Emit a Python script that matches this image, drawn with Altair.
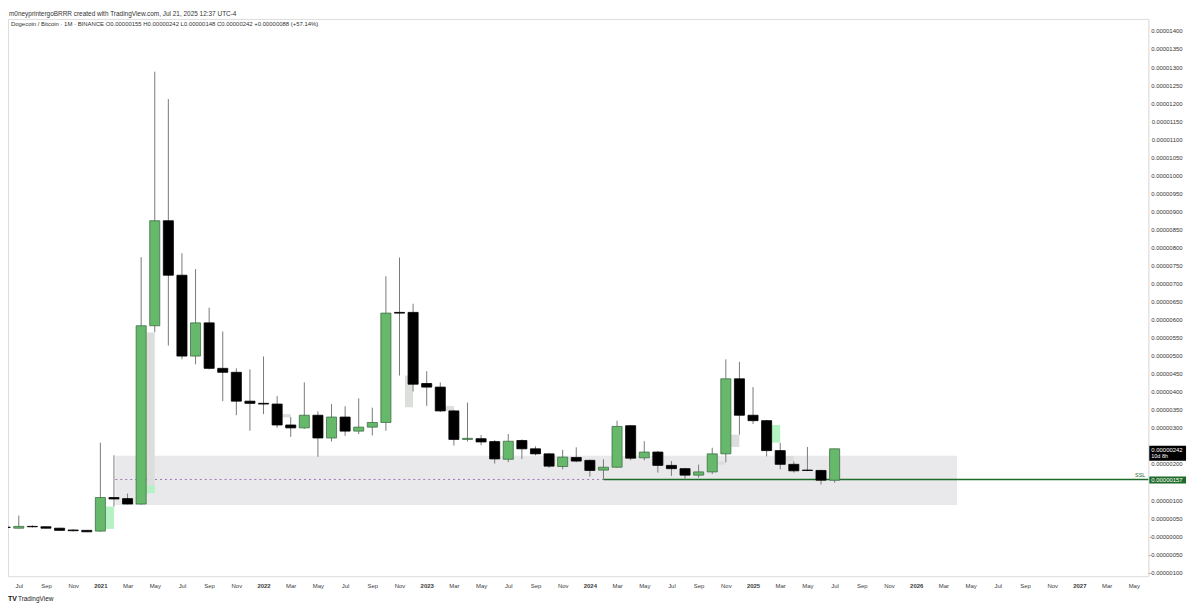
import altair as alt
import pandas as pd

# ---------------- data (prices in units of 1e-8 BTC, month index 0 = Jan 2020) ----------------
first_month = 5  # Jun 2020
opens = [25, 22, 27, 26, 22, 17, 16,
         14, 107, 104, 89, 583, 874, 723, 499, 591, 465, 454, 374,
         368, 366, 308, 300, 335, 272, 330, 291, 302, 315, 620, 620,
         423, 413, 347, 268, 270, 262, 213, 265, 242, 228, 193, 218,
         210, 183, 191, 306, 217, 233, 196, 187, 169, 178, 228, 436,
         335, 320, 237, 199, 183, 182, 155]
highs = [26, 57, 30, 27, 23, 19, 17,
         259, 224, 118, 773, 1287, 1211, 784, 740, 633, 567, 465, 462,
         498, 388, 330, 426, 346, 366, 360, 382, 356, 720, 772, 644,
         457, 426, 350, 370, 280, 266, 283, 268, 249, 230, 239, 246,
         212, 213, 320, 308, 263, 236, 208, 189, 198, 245, 490, 483,
         413, 322, 258, 207, 247, 184, 242]
lows = [23, 21, 24, 21, 15, 13, 11,
        12, 82, 88, 87, 565, 528, 490, 476, 462, 374, 335, 292,
        338, 300, 275, 297, 220, 262, 278, 283, 279, 292, 445, 401,
        361, 344, 251, 262, 252, 201, 205, 214, 224, 189, 185, 205,
        165, 157, 189, 210, 210, 176, 167, 157, 162, 172, 205, 281,
        311, 221, 185, 176, 180, 143, 148]
closes = [24, 27, 26, 22, 16, 15, 12,
          107, 103, 89, 583, 874, 723, 499, 591, 465, 454, 374, 368,
          366, 308, 300, 335, 272, 330, 291, 302, 315, 618, 618, 421,
          413, 347, 268, 271, 261, 214, 263, 242, 228, 194, 219, 208,
          182, 191, 304, 216, 233, 196, 187, 169, 178, 228, 436, 335,
          320, 237, 199, 181, 182, 155, 242]

# imbalance boxes drawn just after a candle
box_month = [12, 15, 15, 25, 34, 37, 57, 58, 61, 62]
box_low = [20, 141, 119, 329, 357, 347, 198, 247, 259, 207]
box_high = [82, 564, 141, 338, 445, 361, 207, 281, 308, 222]
box_kind = ["green", "gray", "green", "gray", "gray", "gray", "gray", "gray", "green", "gray"]

# shaded range, old mid level, SSL level
zone_start, zone_end = 13.1, 75.0
zone_low, zone_high = 86, 223
mid_level = 157
ssl_start = 49
ssl_level = 157
last_price = 242

# axis ticks
x_tick_values = list(range(6, 89, 2))
x_tick_labels = ["Jul", "Sep", "Nov",
                 "2021", "Mar", "May", "Jul", "Sep", "Nov",
                 "2022", "Mar", "May", "Jul", "Sep", "Nov",
                 "2023", "Mar", "May", "Jul", "Sep", "Nov",
                 "2024", "Mar", "May", "Jul", "Sep", "Nov",
                 "2025", "Mar", "May", "Jul", "Sep", "Nov",
                 "2026", "Mar", "May", "Jul", "Sep", "Nov",
                 "2027", "Mar", "May"]
# 150 and 250 sit behind the price tags on the scale
y_tick_values = [v for v in range(-100, 1401, 50) if v not in (150, 250)]

header1 = "m0neyprintergoBRRR created with TradingView.com, Jul 21, 2025 12:37 UTC-4"
header2 = ("Dogecoin / Bitcoin \u00b7 1M \u00b7 BINANCE  O0.00000155  H0.00000242  "
           "L0.00000148  C0.00000242  +0.00000088 (+57.14%)")

# ---------------- layout ----------------
W, H = 1148, 561
X_DOMAIN = [5.207, 89.07]
Y_DOMAIN = [-111, 1433.2]
FONT = "Liberation Sans"
GREEN = "#66b96b"
GREEN_EDGE = "#3f6f45"
BLACK = "#000000"

n = len(opens)
candles = pd.DataFrame({
    "m": [first_month + i for i in range(n)],
    "o": opens, "h": highs, "l": lows, "c": closes,
})

boxes = pd.DataFrame({"m": box_month, "lo": box_low, "hi": box_high, "kind": box_kind})

xs = alt.Scale(domain=X_DOMAIN, nice=False, zero=False)
ys = alt.Scale(domain=Y_DOMAIN, nice=False, zero=False)

label_array = "[" + ",".join("'%s'" % s for s in x_tick_labels) + "]"
xax = alt.Axis(
    values=x_tick_values, grid=False, ticks=False, domain=False,
    labelExpr=label_array + "[round((datum.value - 6) / 2)]",
    labelFont=FONT, labelFontSize=6, labelPadding=6, labelColor="#3a3a3a",
    labelFontWeight={"condition": {"test": "datum.value % 12 === 0", "value": "bold"}, "value": "normal"},
    labelOverlap=False, labelFlush=False,
)
yax = alt.Axis(
    orient="right", values=y_tick_values, grid=False, ticks=False,
    domain=True, domainColor="#e4e4e4", domainWidth=1,
    labelExpr="datum.value == 0 ? '-0.00000000' : format(datum.value / 1e8, '.8f')",
    labelFont=FONT, labelFontSize=6, labelAlign="right", labelPadding=34,
    labelColor="#333333", labelOverlap=False, labelFlush=False,
)


def X(f):
    return alt.X(f, type="quantitative", scale=xs, axis=xax, title=None)


def Y(f):
    return alt.Y(f, type="quantitative", scale=ys, axis=yax, title=None)


# zone
zone_df = pd.DataFrame({"x0": [zone_start], "x1": [zone_end], "lo": [zone_low], "hi": [zone_high]})
zone = alt.Chart(zone_df).mark_rect(color="#e8e8ea", opacity=0.95).encode(
    x=X("x0"), x2="x1", y=Y("lo"), y2="hi")

mid_df = pd.DataFrame({"x0": [zone_start], "x1": [ssl_start], "v": [mid_level]})
mid = alt.Chart(mid_df).mark_rule(color="#8e5aa8", strokeDash=[2, 3], strokeWidth=0.8).encode(
    x=X("x0"), x2="x1", y=Y("v"))

ssl_df = pd.DataFrame({"x0": [ssl_start], "x1": [X_DOMAIN[1]], "v": [ssl_level]})
ssl = alt.Chart(ssl_df).mark_rule(color="#1f6b2a", strokeWidth=1.5).encode(
    x=X("x0"), x2="x1", y=Y("v"))

ovl = alt.Chart(boxes).transform_calculate(
    x0="datum.m + 0.4", x1="datum.m + 1.0"
).mark_rect().encode(
    x=X("x0"), x2="x1", y=Y("lo"), y2="hi",
    color=alt.condition("datum.kind == 'green'", alt.value("#b4f2c4"), alt.value("#dcdedc")),
)

wicks = alt.Chart(candles).mark_rule(color="#7a7a7a", strokeWidth=1).encode(
    x=X("m"), y=Y("l"), y2="h")

bodies = alt.Chart(candles).transform_calculate(
    x0="datum.m - 0.37", x1="datum.m + 0.37"
).mark_rect(strokeWidth=0.8).encode(
    x=X("x0"), x2="x1", y=Y("o"), y2="c",
    color=alt.condition("datum.c > datum.o", alt.value(GREEN), alt.value(BLACK)),
    stroke=alt.condition("datum.c > datum.o", alt.value(GREEN_EDGE), alt.value(BLACK)),
)

# price labels on the scale
ssl_txt_df = pd.DataFrame({"v": [ssl_level]})
ssl_txt = alt.Chart(ssl_txt_df).mark_text(
    text="SSL", color="#1f6b2a", font=FONT, fontSize=5.5, align="right", baseline="bottom", dy=-1
).encode(x=alt.value(W - 3), y=Y("v"))

ssl_box = alt.Chart(ssl_txt_df).mark_rect(color="#1f6b2a", yOffset=-3, y2Offset=4).encode(
    x=alt.value(W + 1), x2=alt.value(W + 38), y=Y("v"), y2="v")
ssl_lab = alt.Chart(ssl_txt_df).mark_text(
    text="0.00000157", color="white", font=FONT, fontSize=6, align="left", baseline="middle", dy=0.5
).encode(x=alt.value(W + 3), y=Y("v"))

last_df = pd.DataFrame({"v": [last_price]})
last_box = alt.Chart(last_df).mark_rect(color="#000000", yOffset=-3, y2Offset=12).encode(
    x=alt.value(W + 1), x2=alt.value(W + 38), y=Y("v"), y2="v")
last_lab = alt.Chart(last_df).mark_text(
    text="0.00000242", color="white", font=FONT, fontSize=6, align="left", baseline="middle", dy=1
).encode(x=alt.value(W + 3), y=Y("v"))
last_cd = alt.Chart(last_df).mark_text(
    text="10d 8h", color="white", font=FONT, fontSize=5.5, align="left", baseline="middle", dy=7.5
).encode(x=alt.value(W + 3), y=Y("v"))

# header & footer
hdr_df = pd.DataFrame({"t": [header1, header2], "px": [1, 3], "py": [-5, 5], "fs": [6.5, 6]})
hdr = alt.Chart(hdr_df).mark_text(
    font=FONT, align="left", baseline="middle", color="#333333"
).encode(x=alt.X("px:Q", scale=None), y=alt.Y("py:Q", scale=None), text="t:N",
         size=alt.Size("fs:Q", scale=None, legend=None))

logo = alt.Chart(pd.DataFrame({"t": ["TradingView"]})).mark_text(
    font=FONT, fontSize=6.5, align="left", baseline="middle", color="#222222"
).encode(x=alt.value(10), y=alt.value(H + 23), text="t:N")
logo_mark = alt.Chart(pd.DataFrame({"t": ["TV"]})).mark_text(
    font=FONT, fontSize=7, fontWeight="bold", align="left", baseline="middle", color="#111111"
).encode(x=alt.value(0), y=alt.value(H + 23), text="t:N")

chart = alt.layer(
    zone, mid, ssl, ovl, wicks, bodies, ssl_txt, ssl_box, ssl_lab, last_box, last_lab, last_cd, hdr, logo, logo_mark
).properties(
    width=W, height=H,
    autosize=alt.AutoSizeParams(type="none"),
    padding={"left": 0, "top": 9, "right": 44, "bottom": 30},
).configure_view(stroke=None).configure(background="white")

chart.save("out.html", embed_options={"renderer": "svg", "actions": False})
